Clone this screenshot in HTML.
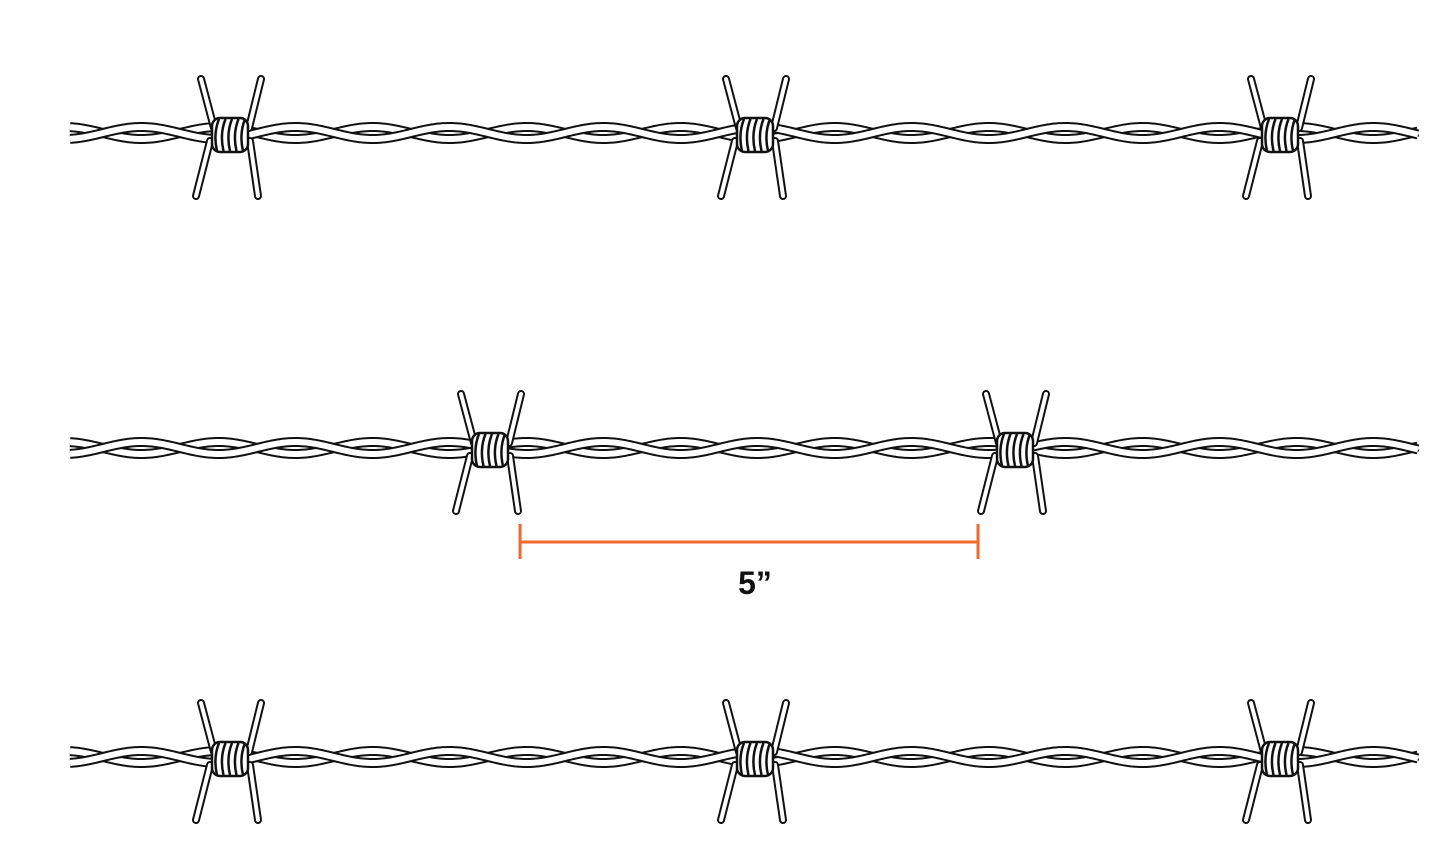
<!DOCTYPE html>
<html><head><meta charset="utf-8"><style>
html,body{margin:0;padding:0;background:#fff;width:1448px;height:862px;overflow:hidden}
svg{display:block}
.t{font-family:"Liberation Sans",sans-serif;font-weight:bold;font-size:32px;fill:#111}
</style></head><body>
<svg id="s" width="1448" height="862" viewBox="0 0 1448 862">
<line x1="520" y1="542" x2="978" y2="542" stroke="#f26a2e" stroke-width="3"/>
<line x1="520" y1="524" x2="520" y2="559" stroke="#f26a2e" stroke-width="3"/>
<line x1="978" y1="524" x2="978" y2="559" stroke="#f26a2e" stroke-width="3"/>
<text class="t" x="755" y="594" text-anchor="middle">5”</text>
</svg>
<script>
var s=document.getElementById('s'),NS='http://www.w3.org/2000/svg';
function el(n,a){var e=document.createElementNS(NS,n);for(var k in a)e.setAttribute(k,a[k]);s.appendChild(e);return e;}
function wire(c){
  for(var ph=0;ph<2;ph++){
    var d='';
    for(var x=70;x<=1418;x+=2){
      var y=c+6*Math.sin((x-103)/154*2*Math.PI+ph*Math.PI);
      d+=(x==70?'M':'L')+x+' '+y.toFixed(2);
    }
    el('path',{d:d,fill:'none',stroke:'#111','stroke-width':10});
    el('path',{d:d,fill:'none',stroke:'#fff','stroke-width':6});
  }
}
function spike(x1,y1,x2,y2){
  el('line',{x1:x1,y1:y1,x2:x2,y2:y2,stroke:'#111','stroke-width':8,'stroke-linecap':'round'});
  el('line',{x1:x1,y1:y1,x2:x2,y2:y2,stroke:'#fff','stroke-width':4,'stroke-linecap':'round'});
}
function barb(cx,cy){
  spike(cx-29,cy-54,cx-16,cy-5);
  spike(cx-20,cy+8,cx-34,cy+63);
  spike(cx+31,cy-54,cx+19,cy-5);
  spike(cx+20,cy+8,cx+28,cy+63);
  el('rect',{x:cx-18,y:cy-15,width:36,height:34,rx:8,fill:'#fff',stroke:'#111','stroke-width':2.5});
  for(var i=0;i<5;i++){
    var x=cx-11+i*6.5;
    el('path',{d:'M'+(x)+' '+(cy-14)+' Q'+(x-6)+' '+(cy+1)+' '+(x-2)+' '+(cy+18),fill:'none',stroke:'#111','stroke-width':2.5});
  }
}
var rows=[[133,[230,755,1280]],[448,[490,1015]],[757,[230,755,1280]]];
rows.forEach(function(r){wire(r[0]);r[1].forEach(function(x){barb(x,r[0]);});});
</script>
</body></html>
